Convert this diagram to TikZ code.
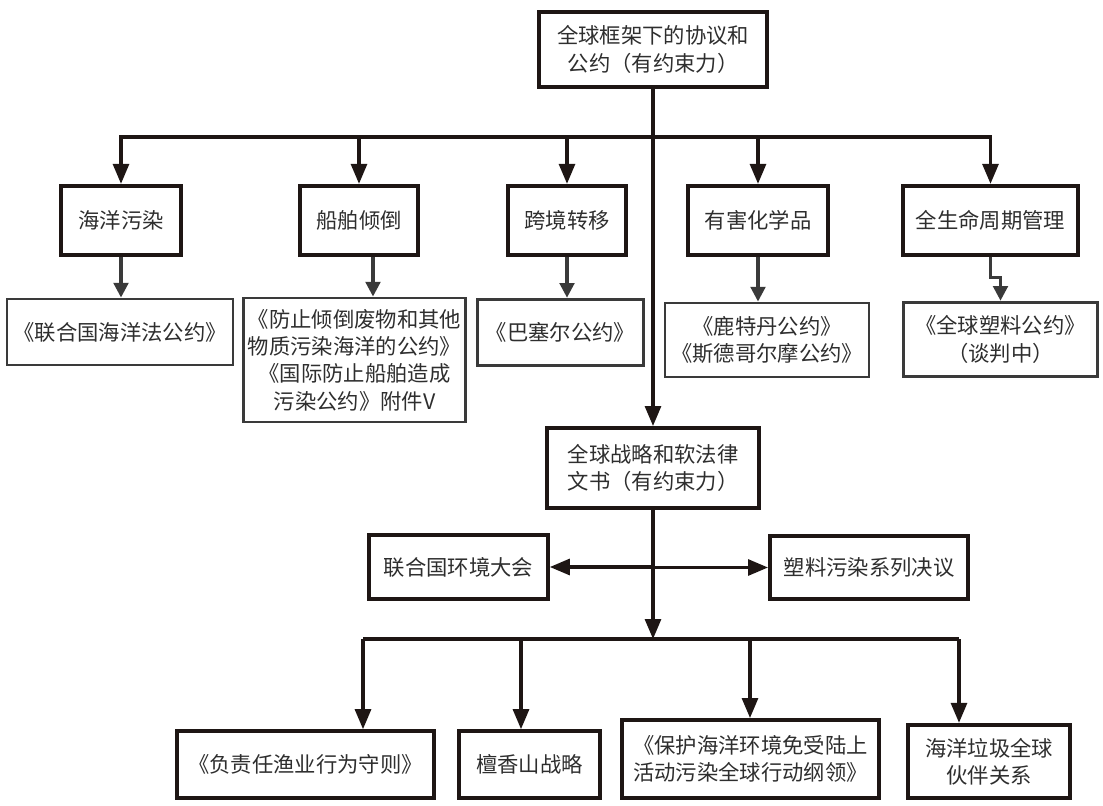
\documentclass[tikz,border=0pt]{standalone}
\usepackage{fontspec}
\setmainfont{Noto Sans CJK SC}
\usetikzlibrary{arrows.meta}
\definecolor{lineblack}{HTML}{1E1614}
\definecolor{linegrey}{HTML}{3A3A3A}
\definecolor{textgrey}{HTML}{2E2E2E}

\begin{document}
\begin{tikzpicture}[x=0.75pt,y=-0.75pt,
		font=\fontsize{16}{20.5}\selectfont,
		mainbox/.style={draw=lineblack, line width=3pt, text=textgrey, align=center, inner sep=1pt},
		subbox/.style={draw=linegrey, line width=2.2pt, text=textgrey, align=center, inner sep=1pt},
		mainline/.style={draw=lineblack, line width=2.3pt},
		mainarrow/.style={mainline, -{Triangle[length=15pt,width=12pt]}},
		subarrow/.style={draw=linegrey, line width=2.3pt, -{Triangle[length=11pt,width=11pt]}}]
		\useasboundingbox (0,0) rectangle (1103,806);
		
		% Binding agreements
		\node[mainbox, minimum width=171pt, minimum height=56pt] (top) at (653,49.5) {全球框架下的协议和\\公约（有约束力）};
		
		% Topics
		\node[mainbox, minimum width=90pt, minimum height=52pt] (pollution) at (121,220.5) {海洋污染};
		\node[mainbox, minimum width=88.5pt, minimum height=52pt] (dumping) at (359,220.5) {船舶倾倒};
		\node[mainbox, minimum width=88.5pt, minimum height=52pt] (transfer) at (567,220.5) {跨境转移};
		\node[mainbox, minimum width=105pt, minimum height=52pt] (chem) at (758,220.5) {有害化学品};
		\node[mainbox, minimum width=131pt, minimum height=52pt] (lifecycle) at (990.5,220.5) {全生命周期管理};
		
		% Conventions
		\node[subbox, minimum width=169.5pt, minimum height=49.5pt] (unclos) at (120,332) {《联合国海洋法公约》};
		\node[subbox, minimum width=167pt, minimum height=93pt] (dumpconv) at (354.5,360) {《防止倾倒废物和其他\\物质污染海洋的公约》\\《国际防止船舶造成\\污染公约》附件V};
		\node[subbox, minimum width=124pt, minimum height=50pt] (basel) at (560.5,332.5) {《巴塞尔公约》};
		\node[subbox, minimum width=153pt, minimum height=55.5pt] (pic) at (767,340) {《鹿特丹公约》\\《斯德哥尔摩公约》};
		\node[subbox, minimum width=146pt, minimum height=56pt] (plasticconv) at (1000.5,339.5) {《全球塑料公约》\\（谈判中）};
		
		% Strategies and soft law
		\node[mainbox, minimum width=159pt, minimum height=60pt] (soft) at (653,468) {全球战略和软法律\\文书（有约束力）};
		\node[mainbox, minimum width=134pt, minimum height=48pt] (unep) at (458.5,567) {联合国环境大会};
		\node[mainbox, minimum width=148.5pt, minimum height=47pt] (res) at (869,567.5) {塑料污染系列决议};
		
		\node[mainbox, minimum width=193pt, minimum height=50pt] (resp) at (305.5,764.5) {《负责任渔业行为守则》};
		\node[mainbox, minimum width=106pt, minimum height=50pt] (hono) at (529.5,764.5) {檀香山战略};
		\node[mainbox, minimum width=193pt, minimum height=58.5pt] (gpa) at (750.5,759) {《保护海洋环境免受陆上\\活动污染全球行动纲领》};
		\node[mainbox, minimum width=121.5pt, minimum height=55pt] (gpml) at (989,761.5) {海洋垃圾全球\\伙伴关系};
		
		% Upper bus
		\coordinate (bus1) at (653,137);
		\foreach \n in {pollution,dumping,transfer,chem,lifecycle}
		\draw[mainarrow] (bus1) -| (\n.north);
		\draw[mainarrow] (top.south) -- (soft.north);
		
		% Topics to conventions
		\coordinate (dumpdrop) at ([xshift=10.5pt]dumping.south);
		\draw[subarrow] (pollution.south) -- (pollution.south |- unclos.north);
		\draw[subarrow] (dumpdrop) -- (dumpdrop |- dumpconv.north);
		\draw[subarrow] (transfer.south) -- (transfer.south |- basel.north);
		\draw[subarrow] (chem.south) -- (chem.south |- pic.north);
		\draw[subarrow] (lifecycle.south) -- ++(0,20) -| (plasticconv.north);
		
		% Side arrows
		\draw[mainarrow] (soft.south |- unep.east) -- (unep.east);
		\draw[mainarrow] (soft.south |- res.west) -- (res.west);
		
		% Lower bus
		\coordinate (bus2) at (653,639);
		\coordinate (d1) at (363,639);
		\coordinate (d2) at (521,639);
		\coordinate (d3) at (750,639);
		\coordinate (d4) at (959,639);
		\draw[mainline] (d1) -- (d4);
		\draw[mainarrow] (soft.south) -- (bus2);
		\foreach \d/\n in {d1/resp,d2/hono,d3/gpa,d4/gpml}
		\draw[mainarrow] (\d) -- (\d |- \n.north);
	\end{tikzpicture}
\end{document}
